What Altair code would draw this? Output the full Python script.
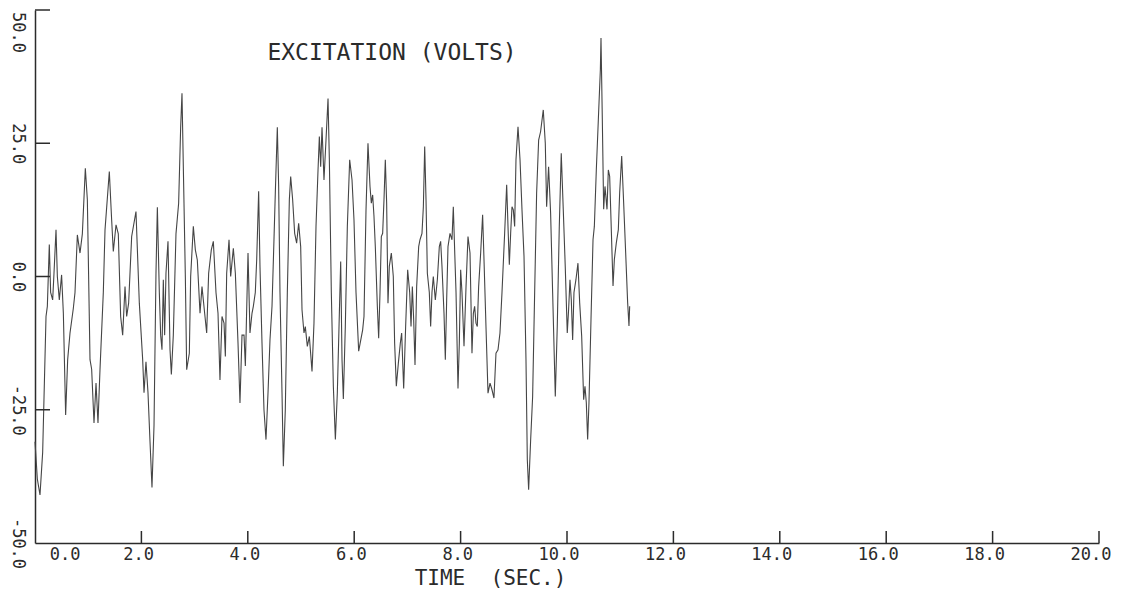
import altair as alt
import pandas as pd

# ---- data ----
time_s = [
    0.0, 0.044, 0.094, 0.144, 0.207, 0.232, 0.269, 0.294, 0.332, 0.357, 0.395, 0.42, 0.457, 0.5, 0.533,
    0.576, 0.614, 0.658, 0.72, 0.752, 0.796, 0.846, 0.89, 0.946, 0.984, 1.034, 1.065, 1.109, 1.147, 1.184,
    1.222, 1.284, 1.316, 1.397, 1.441, 1.472, 1.523, 1.566, 1.61, 1.648, 1.692, 1.723, 1.76, 1.817, 1.898, 1.961,
    2.024, 2.049, 2.086, 2.124, 2.162, 2.199, 2.237, 2.274, 2.3, 2.337, 2.362, 2.387, 2.412, 2.437, 2.462,
    2.5, 2.538, 2.563, 2.6, 2.65, 2.7, 2.738, 2.763, 2.788, 2.826, 2.851, 2.901, 2.926, 2.976, 3.014, 3.051,
    3.102, 3.139, 3.189, 3.227, 3.264, 3.314, 3.352, 3.402, 3.44, 3.477, 3.515, 3.553, 3.578, 3.603, 3.647,
    3.678, 3.728, 3.766, 3.816, 3.853, 3.891, 3.929, 3.954, 4.004, 4.041,
    4.079, 4.104, 4.141, 4.167, 4.204, 4.229, 4.267, 4.304, 4.342, 4.38, 4.417, 4.455, 4.492, 4.517, 4.555,
    4.58, 4.605, 4.643, 4.668, 4.705, 4.743, 4.781, 4.806, 4.843, 4.881, 4.918, 4.956, 4.994, 5.019, 5.056,
    5.081, 5.119, 5.157, 5.207, 5.244, 5.282, 5.32, 5.345, 5.37, 5.395, 5.432, 5.47, 5.508, 5.533, 5.57,
    5.608, 5.646, 5.683, 5.721, 5.746, 5.771, 5.796, 5.833, 5.871, 5.915, 5.959, 5.996, 6.034, 6.084,
    6.159, 6.184, 6.222, 6.259, 6.297, 6.322, 6.347, 6.372, 6.397, 6.435, 6.46, 6.485, 6.51, 6.535, 6.56,
    6.585, 6.61, 6.635, 6.66, 6.698, 6.735, 6.76, 6.792, 6.83, 6.867, 6.892, 6.93, 6.967, 7.005, 7.043,
    7.068, 7.093, 7.118, 7.143, 7.174, 7.212, 7.237, 7.274, 7.3, 7.325, 7.35, 7.375, 7.412, 7.437, 7.462,
    7.487, 7.525, 7.563, 7.6, 7.625, 7.65, 7.688, 7.713, 7.738, 7.763, 7.801, 7.838, 7.863, 7.888, 7.914,
    7.951, 7.976, 8.001, 8.026, 8.064, 8.102, 8.139, 8.177, 8.214,
    8.24, 8.264, 8.289, 8.314, 8.339, 8.377, 8.414, 8.44, 8.477, 8.515, 8.553, 8.59, 8.627, 8.665, 8.703,
    8.74, 8.778, 8.828, 8.866, 8.891, 8.916, 8.941, 8.966, 8.991, 9.016, 9.041, 9.079, 9.117, 9.154, 9.192,
    9.229, 9.254, 9.279, 9.317, 9.354, 9.392, 9.429, 9.467, 9.504, 9.554, 9.592, 9.617, 9.654, 9.692, 9.73,
    9.78, 9.817, 9.855, 9.892, 9.93, 9.967, 10.005, 10.03, 10.056, 10.081, 10.106, 10.131, 10.168, 10.206,
    10.238, 10.276, 10.313, 10.338, 10.363, 10.388, 10.413, 10.451, 10.489, 10.514, 10.551, 10.589, 10.627,
    10.639, 10.664, 10.689, 10.714, 10.752, 10.777, 10.802, 10.827, 10.865, 10.89, 10.927, 10.965, 10.99,
    11.028, 11.065, 11.103, 11.14, 11.165, 11.178,
]
volts = [
    -31, -38, -41, -33, -7.5, -5.6, 6, -3, -4.4, 0.6, 8.75, 0, -4.4, 0.3, -6.9,
    -26, -15.6, -10.6, -6, -3, 7.8, 4.4, 8, 20.3, 14.4, -15.6, -17.4, -27.5, -20, -27.5,
    -17.4, -3, 8.75, 19.7, 10.6, 4.7, 9.7, 8, -7.5, -11, -1.9, -7.5, -5, 7.5, 12.2, -5,
    -15.6, -21.8, -16, -21.8, -31, -39.6, -28, 0.6, 13, -3, -11, -13.75, -0.6, -11, 0.6,
    6.6, -13.75, -18.4, -11, 8, 13.75, 28, 34.4, 20.6, 0, -17.5, -14.4, 0, 9.4, 5, 3.1,
    -6.9, -1.9, -6.9, -10.6, 0.6, 5, 6.6, -3, -6.9, -19.4, -7.5, -8.75, -15, 0.6, 6.9,
    0, 5.3, 0.6, -12.5, -23.75, -11, -11, -16.8, 4.4, -10.6,
    -6.9, -5.6, -3, 3.1, 16, 1.9, -12.5, -25, -30.6, -21.8, -11.9, -5.6, 6.9, 15.6, 28,
    16.9, -3, -21.8, -35.6, -25, -3, 14.4, 18.75, 14.4, 8.1, 6.25, 10, 5.6, -6.25, -10.6,
    -9.4, -13.1, -11.25, -17.8, -8.75, 9.4, 20, 26.25, 20.6, 28, 18.1, 25.6, 33.4, 21.9, -3,
    -20.6, -30.6, -21.8, -6.9, 2.8, -15.6, -23, -9.4, 9.4, 21.9, 18.1, 10.6, -3, -14,
    -10, -7.5, 12.5, 25, 16.9, 13.75, 15.3, 11.25, 5.6, -5.6, -11.6, -3, 7.5, 8.1, 14.4,
    21.9, 13.75, -5, 1.9, 4.4, 0, -12.5, -20.6, -16.25, -12.5, -10.6, -21, -9.4, 1.25, -3,
    -9.4, -1.9, -8.1, -16.6, -1.9, 5.6, 6.9, 8.1, 13.1, 24.4, 14.4, 0.6, -3, -9.4, -3,
    0, -4.4, -0.6, 5.6, 6.6, 1.9, -6.9, -15.6, -4.4, 5.6, 8.1, 6.9, 13.1, 5, -3,
    -21, -12.5, 1.25, -3, -13.1, -1.9, 7.5, 4.4, -14.4,
    -6.9, -5.6, -8.75, -9.4, -1.9, 4.4, 11.6, 3.1, -9.4, -21.9, -20, -21.25, -22.8, -14.4, -13.75,
    -10.6, -3, 8.1, 17.2, 9.4, 2.2, 8.1, 13.1, 12.5, 9.4, 21.9, 28.1, 21.9, 12.5, 3.75,
    -15.6, -34.4, -40, -30.6, -22.5, -3, 15.6, 25.6, 27.2, 31.25, 25, 13.1, 20.6, 11.9, -3,
    -22.5, -9.4, 9.4, 23.1, 12.5, 1.9, -10.6, -6.25, -0.6, -4.4, -11.9, -3, -0.6, 2.5,
    -4.9, -11.2, -23.1, -20.6, -23.7, -30.6, -23.7, -8.1, 6.9, 9.4, 20, 29.4, 38.8,
    44.75, 29.4, 12.6, 16.9, 12.6, 20, 18.8, 10.7, -1.8, 3.2, 6.3, 8.8, 15.7,
    22.6, 13.8, 4.4, -4.9, -9.3, -5.6,
]
x_tick_values = [0, 2, 4, 6, 8, 10, 12, 14, 16, 18, 20]
x_tick_marks = [2, 4, 6, 8, 10, 12, 14, 16, 18, 20]
y_tick_values = [-50, -25, 0, 25, 50]
y_tick_marks = [-25, 0, 25, 50]
chart_label = ["EXCITATION (VOLTS)"]
x_title = "TIME \u00a0(SEC.)"

# ---- styling ----
W, H = 1064, 533
FONT = "DejaVu Sans Mono"
INK = "#2b2b2b"
MINUS_FIX = "replace(datum.label, '\u2212', '-')"

xscale = alt.Scale(domain=[0, 20], nice=False, zero=False)
yscale = alt.Scale(domain=[-50, 50], nice=False, zero=False)

x_axis = alt.Axis(
    values=x_tick_values, format=".1f", labelExpr=MINUS_FIX, title=x_title,
    ticks=False, grid=False, domainColor=INK, domainWidth=1.5,
    labelFont=FONT, labelFontSize=17, labelColor=INK,
    labelAlign="right", labelBaseline="middle", labelPadding=11,
    labelOffset={"condition": {"test": "datum.value == 0", "value": 45}, "value": 12},
    labelFlush=False, labelOverlap=False,
    titleFont=FONT, titleFontSize=21, titleFontWeight="normal", titleColor=INK,
    titleX=455, titleY=35, titleAlign="center", titleBaseline="middle",
)
y_axis = alt.Axis(
    values=y_tick_values, format=".1f", labelExpr=MINUS_FIX, title=None,
    ticks=False, grid=False, domainColor=INK, domainWidth=1.5,
    labelFont=FONT, labelFontSize=17, labelColor=INK,
    labelAngle=90, labelAlign="center", labelBaseline="middle", labelPadding=18,
    labelOffset={"condition": {"test": "datum.value == 50", "value": 22}, "value": 0},
    labelFlush=False, labelOverlap=False,
)

X = alt.X("t:Q", scale=xscale, axis=x_axis)
Y = alt.Y("v:Q", scale=yscale, axis=y_axis)

df = pd.DataFrame({"t": time_s, "v": volts})

trace = alt.Chart(df).mark_line(color="#454545", strokeWidth=1.1).encode(x=X, y=Y)

yticks = alt.Chart(pd.DataFrame({"v": y_tick_marks})).mark_rule(
    color=INK, strokeWidth=1.5
).encode(y=Y, x=alt.value(0), x2=alt.value(15))

xticks = alt.Chart(pd.DataFrame({"t": x_tick_marks})).mark_rule(
    color=INK, strokeWidth=1.5
).encode(x=X, y=alt.value(H), y2=alt.value(H - 12))

label = alt.Chart(pd.DataFrame({"label": chart_label})).mark_text(
    font=FONT, fontSize=23, color=INK, align="center", baseline="middle"
).encode(text="label:N", x=alt.value(357), y=alt.value(43))

chart = (
    alt.layer(trace, yticks, xticks, label)
    .properties(
        width=W, height=H,
        padding={"left": 35, "top": 10, "right": 33, "bottom": 53},
        autosize=alt.AutoSizeParams(type="none"),
        background="white",
    )
    .configure_view(stroke=None)
)

chart.save("out.html", embed_options={"renderer": "svg", "actions": False})
